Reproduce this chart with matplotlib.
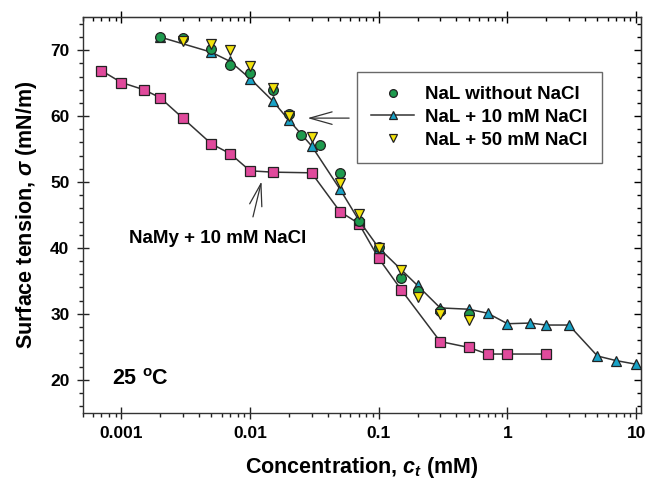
import matplotlib
matplotlib.use("Agg")
import matplotlib.pyplot as plt
from matplotlib.ticker import MultipleLocator, FixedLocator, FixedFormatter, LogLocator, NullFormatter

plt.rcParams["font.family"] = ["Liberation Sans", "DejaVu Sans"]
plt.rcParams["font.weight"] = "bold"
plt.rcParams["mathtext.fontset"] = "custom"
plt.rcParams["mathtext.rm"] = "Liberation Sans:bold"
plt.rcParams["mathtext.bf"] = "Liberation Sans:bold"
plt.rcParams["mathtext.it"] = "Liberation Sans:italic:bold"

# NaMy + 10 mM NaCl
c_namy = [0.0007, 0.001, 0.0015, 0.002, 0.003, 0.005, 0.007, 0.01, 0.015, 0.03,
          0.05, 0.07, 0.1, 0.15, 0.3, 0.5, 0.7, 1, 2]
s_namy = [66.9, 65.1, 64.0, 62.8, 59.7, 55.8, 54.3, 51.7, 51.5, 51.4,
          45.5, 43.7, 38.4, 33.6, 25.8, 24.9, 23.9, 23.9, 23.9]

# NaL without NaCl
c_nal0 = [0.002, 0.003, 0.005, 0.007, 0.01, 0.015, 0.02, 0.025, 0.035, 0.05,
          0.07, 0.1, 0.15, 0.2, 0.3, 0.5]
s_nal0 = [72.0, 71.9, 70.2, 67.8, 66.5, 64.0, 60.3, 57.1, 55.6, 51.3,
          44.1, 40.2, 35.5, 33.4, 30.4, 29.9]

# NaL + 10 mM NaCl
c_nal10 = [0.002, 0.005, 0.007, 0.01, 0.015, 0.02, 0.03, 0.05, 0.07, 0.1, 0.2,
           0.3, 0.5, 0.7, 1, 1.5, 2, 3, 5, 7, 10]
s_nal10 = [72.0, 69.7, 68.3, 65.7, 62.3, 59.4, 55.5, 48.9, 44.2, 40.0, 34.3,
           30.9, 30.7, 30.1, 28.5, 28.6, 28.3, 28.3, 23.6, 22.9, 22.35]

# NaL + 50 mM NaCl
c_nal50 = [0.003, 0.005, 0.007, 0.01, 0.015, 0.02, 0.03, 0.05, 0.07, 0.1,
           0.15, 0.2, 0.3, 0.5]
s_nal50 = [71.4, 70.9, 70.0, 67.6, 64.3, 60.0, 56.9, 49.9, 45.1, 40.0,
           36.6, 32.5, 29.9, 29.1]

xticks = [0.001, 0.01, 0.1, 1, 10]
xticklabels = ["0.001", "0.01", "0.1", "1", "10"]

fig = plt.figure(figsize=(6.47, 4.87), dpi=100)
ax = fig.add_axes([0.1278, 0.1526, 0.8629, 0.8119])

edge = "#222222"
ax.plot(c_namy, s_namy, "-s", color="#333333", lw=1.1, ms=6.5,
        mfc="#e04a9c", mec=edge, mew=0.9, zorder=3)
ax.plot(c_nal10, s_nal10, "-^", color="#333333", lw=1.1, ms=7.5,
        mfc="#18a2c6", mec=edge, mew=0.9, zorder=3, label="NaL + 10 mM NaCl")
ax.plot(c_nal0, s_nal0, "o", ls="none", ms=7, mfc="#1e9a4e", mec=edge,
        mew=0.9, zorder=4, label="NaL without NaCl")
ax.plot(c_nal50, s_nal50, "v", ls="none", ms=7.5, mfc="#f3e30c", mec=edge,
        mew=0.9, zorder=5, label="NaL + 50 mM NaCl")

ax.set_xscale("log")
ax.set_xlim(0.0005, 10.9)
ax.set_ylim(15, 75)

ax.xaxis.set_major_locator(FixedLocator(xticks))
ax.xaxis.set_major_formatter(FixedFormatter(xticklabels))
ax.xaxis.set_minor_locator(LogLocator(base=10, subs=range(2, 10)))
ax.xaxis.set_minor_formatter(NullFormatter())
ax.yaxis.set_major_locator(MultipleLocator(10))
ax.yaxis.set_minor_locator(MultipleLocator(2))

ax.tick_params(which="major", direction="inout", length=9, width=1,
               labelsize=12.5, pad=5, color="#222222")
ax.tick_params(which="minor", direction="out", length=3, width=1, color="#222222")
for lab in ax.get_xticklabels() + ax.get_yticklabels():
    lab.set_fontweight("bold")

for sp in ax.spines.values():
    sp.set_linewidth(1.0)
    sp.set_color("#333333")

top = ax.secondary_xaxis("top")
top.xaxis.set_major_locator(FixedLocator(xticks))
top.xaxis.set_minor_locator(LogLocator(base=10, subs=range(2, 10)))
top.tick_params(which="major", direction="inout", length=9, width=1, labeltop=False)
top.tick_params(which="minor", direction="in", length=3, width=1)
top.xaxis.set_major_formatter(NullFormatter())
top.xaxis.set_minor_formatter(NullFormatter())

right = ax.secondary_yaxis("right")
right.yaxis.set_major_locator(MultipleLocator(10))
right.yaxis.set_minor_locator(MultipleLocator(2))
right.tick_params(which="major", direction="in", length=5, width=1, labelright=False)
right.tick_params(which="minor", direction="in", length=3, width=1)
right.yaxis.set_major_formatter(NullFormatter())

ax.set_xlabel("Concentration, $c_t$ (mM)", fontsize=15.5, fontweight="bold", labelpad=10)
ax.set_ylabel("Surface tension, $\\sigma$ (mN/m)", fontsize=15.5, fontweight="bold", labelpad=8)

handles, labels = ax.get_legend_handles_labels()
order = [1, 0, 2]
leg = ax.legend([handles[i] for i in order], [labels[i] for i in order],
                loc="upper left", bbox_to_anchor=(0.4913, 0.8617), fontsize=13.5,
                frameon=True, fancybox=False, edgecolor="#444444",
                handlelength=2.3, borderpad=0.75, labelspacing=0.3,
                handletextpad=0.6, borderaxespad=0, markerscale=0.8)
leg.get_frame().set_linewidth(1.0)
for t in leg.get_texts():
    t.set_fontweight("bold")

# arrows pointing to curves
ax.annotate("", xy=(0.0266, 59.7), xytext=(0.0618, 59.7),
            arrowprops=dict(arrowstyle="->,head_length=1.6,head_width=0.45",
                            color="#333333", lw=0.9))
ax.annotate("", xy=(0.0124, 50.5), xytext=(0.0104, 44.3),
            arrowprops=dict(arrowstyle="->,head_length=1.6,head_width=0.45",
                            color="#333333", lw=0.9))

ax.text(0.0056, 41.4, "NaMy + 10 mM NaCl", fontsize=13.5, fontweight="bold",
        ha="center", va="center")
ax.text(0.00085, 20.0, "25 $^{\\rm o}$C", fontsize=15.5, fontweight="bold",
        ha="left", va="center")

fig.savefig("out.png", dpi=100)
